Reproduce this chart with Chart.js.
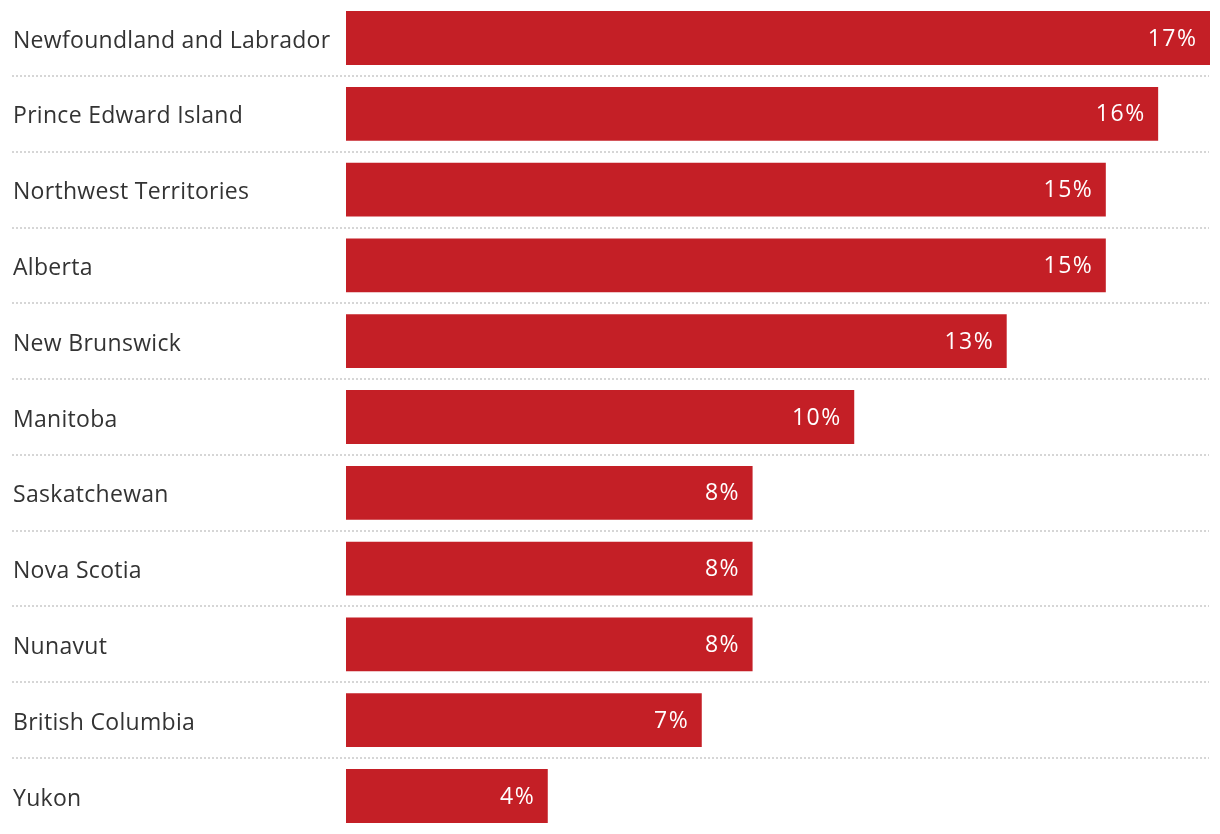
<!DOCTYPE html>
<html>
<head>
<meta charset="utf-8">
<script src="https://cdn.jsdelivr.net/npm/chart.js@4/dist/chart.umd.min.js"></script>
<style>
  html, body { margin: 0; padding: 0; background: #ffffff; }
  #wrap { width: 1220px; height: 834px; position: relative; }
</style>
</head>
<body>
<div id="wrap"><canvas id="c"></canvas></div>
<script>
const categories = [
  "Newfoundland and Labrador", "Prince Edward Island", "Northwest Territories",
  "Alberta", "New Brunswick", "Manitoba", "Saskatchewan", "Nova Scotia",
  "Nunavut", "British Columbia", "Yukon"
];
const shares = [17, 15.98, 14.95, 14.95, 13, 10, 8, 8, 8, 7, 3.97];
const valueLabels = ["17%", "16%", "15%", "15%", "13%", "10%", "8%", "8%", "8%", "7%", "4%"];

const FONT = "'Open Sans', 'Noto Sans', sans-serif";
const BAR_COLOR = "#c41f26";

const spacing = {
  id: "spacing",
  beforeDraw(chart) { chart.ctx.letterSpacing = "0.3px"; }
};

const separators = {
  id: "separators",
  beforeDatasetsDraw(chart) {
    const y = chart.scales.y;
    const ctx = chart.ctx;
    ctx.save();
    ctx.strokeStyle = "#d6d6d6";
    ctx.lineWidth = 2;
    ctx.setLineDash([2, 2]);
    for (let i = 0; i < categories.length - 1; i++) {
      const py = Math.round((y.getPixelForValue(i) + y.getPixelForValue(i + 1)) / 2);
      ctx.beginPath();
      ctx.moveTo(12, py);
      ctx.lineTo(chart.chartArea.right - 1, py);
      ctx.stroke();
    }
    ctx.restore();
  }
};

const valueLabelPlugin = {
  id: "valueLabels",
  afterDatasetsDraw(chart) {
    const meta = chart.getDatasetMeta(0);
    const ctx = chart.ctx;
    ctx.save();
    ctx.fillStyle = "#ffffff";
    ctx.font = "23px " + FONT;
    ctx.letterSpacing = "1.5px";
    ctx.textAlign = "right";
    ctx.textBaseline = "middle";
    meta.data.forEach((bar, i) => {
      ctx.fillText(valueLabels[i], bar.x - 12.5, bar.y + 1);
    });
    ctx.restore();
  }
};

new Chart(document.getElementById("c"), {
  type: "bar",
  data: {
    labels: categories,
    datasets: [{
      data: shares,
      backgroundColor: BAR_COLOR,
      borderWidth: 0,
      categoryPercentage: 0.71,
      barPercentage: 1.0
    }]
  },
  options: {
    indexAxis: "y",
    responsive: true,
    maintainAspectRatio: false,
    animation: false,
    layout: { padding: { left: 13, right: 10, top: -1.5, bottom: -1.5 } },
    plugins: { legend: { display: false }, tooltip: { enabled: false } },
    scales: {
      x: {
        display: false,
        min: 0,
        max: Math.max(...shares)
      },
      y: {
        grid: { display: false, drawTicks: false },
        border: { display: false },
        ticks: {
          crossAlign: "far",
          color: "#333333",
          font: { family: FONT, size: 23, lineHeight: 0.01 },
          padding: 0,
          labelOffset: 3
        },
        afterFit(scale) { scale.width = 333; }
      }
    }
  },
  plugins: [spacing, separators, valueLabelPlugin]
});
</script>
</body>
</html>
